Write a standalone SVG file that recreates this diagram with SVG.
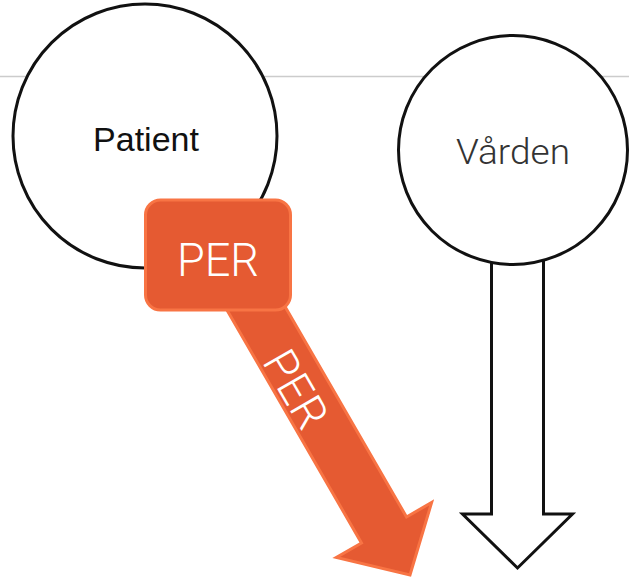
<svg xmlns="http://www.w3.org/2000/svg" width="629" height="577" viewBox="0 0 629 577">
<style>
.node{fill:#fff;stroke:#111;stroke-width:3}
.lbl{font-family:"Liberation Sans",Arial,sans-serif;text-anchor:middle}
.thin{font-family:Roboto,"Liberation Sans",Arial,sans-serif;font-weight:300;text-anchor:middle}
.hollow{fill:#fff;stroke:#111;stroke-width:3;stroke-linejoin:miter}
.orange{fill:#E55A32;stroke:#F87444;stroke-width:3;stroke-linejoin:miter}
.wlbl{font-family:Roboto,"Liberation Sans",Arial,sans-serif;font-weight:300;fill:#fff;text-anchor:middle}
</style>
<rect width="629" height="577" fill="#fff"/>
<line x1="0" y1="76.5" x2="629" y2="76.5" stroke="#cccccc" stroke-width="1.5"/>
<g id="connectors">
  <polygon class="hollow" points="491.5,250 543.5,250 543.5,514 572.5,514 517.5,568 462.5,514 491.5,514"/>
  <g transform="translate(410,575) rotate(-30)">
    <polygon class="orange" points="-26,-330 26,-330 26,-52 55,-52 0,0 -55,-52 -26,-52"/>
  </g>
  <text class="wlbl" font-size="46" transform="translate(282,397) rotate(60)" textLength="82" lengthAdjust="spacingAndGlyphs">PER</text>
</g>
<g id="patient">
  <circle class="node" cx="145" cy="136" r="132"/>
  <text class="lbl" x="146" y="151" font-size="34" fill="#111">Patient</text>
</g>
<g id="varden">
  <circle class="node" cx="513" cy="150" r="114.5"/>
  <text class="thin" x="513" y="164" font-size="35" fill="#333" textLength="114" lengthAdjust="spacingAndGlyphs">Vården</text>
</g>
<g id="per">
  <rect class="orange" x="145.5" y="200" width="145" height="110" rx="15"/>
  <text class="wlbl" x="218" y="276" font-size="47" textLength="82" lengthAdjust="spacingAndGlyphs">PER</text>
</g>
</svg>
